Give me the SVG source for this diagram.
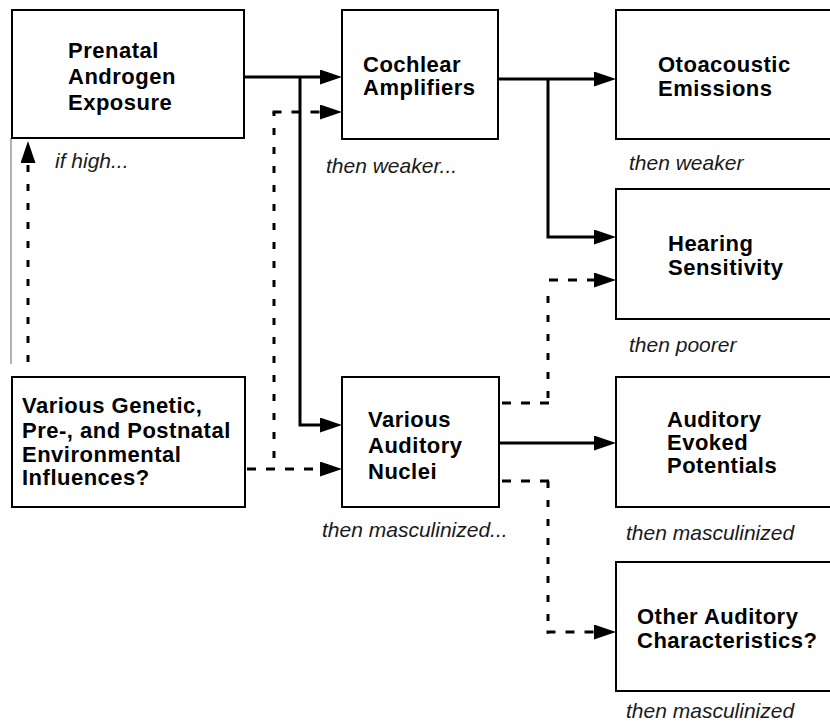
<svg xmlns="http://www.w3.org/2000/svg" width="830" height="725" viewBox="0 0 830 725">
<style>
.box{fill:#fff;stroke:#000;stroke-width:2}
.lbl{font-family:"Liberation Sans",Arial,sans-serif;font-weight:bold;font-size:22px;letter-spacing:0.5px;fill:#000}
.note{font-family:"Liberation Sans",Arial,sans-serif;font-style:italic;font-size:21px;fill:#1a1a1a}
.solid{fill:none;stroke:#000;stroke-width:3}
.dh{fill:none;stroke:#000;stroke-width:3;stroke-dasharray:9 10}
.dv{fill:none;stroke:#000;stroke-width:3;stroke-dasharray:7 12}
.ghost{fill:none;stroke:#999;stroke-width:1.5}
</style>
<defs>
<marker id="ah" markerUnits="userSpaceOnUse" viewBox="0 0 22 15" markerWidth="22" markerHeight="15" refX="12" refY="7.5" orient="auto">
<path d="M0,0 L22,7.5 L0,15 z" fill="#000"/>
</marker>
</defs>
<rect width="830" height="725" fill="#fff"/>

<g id="connectors">
<line class="ghost" x1="11" y1="138" x2="11" y2="364"/>
<!-- solid -->
<path class="solid" d="M244,77 H332" marker-end="url(#ah)"/>
<path class="solid" d="M300,77 V425 H332" marker-end="url(#ah)"/>
<path class="solid" d="M498,79 H606" marker-end="url(#ah)"/>
<path class="solid" d="M548,79 V237 H606" marker-end="url(#ah)"/>
<path class="solid" d="M499,443 H606" marker-end="url(#ah)"/>
<!-- dashed: genetic -> prenatal -->
<line class="dv" x1="28" y1="362" x2="28" y2="151" marker-end="url(#ah)"/>
<!-- genetic -> nuclei -->
<line class="dh" x1="247" y1="469" x2="332" y2="469" marker-end="url(#ah)"/>
<!-- genetic -> cochlear -->
<line class="dv" x1="274" y1="458" x2="274" y2="112"/>
<line class="dh" x1="272.5" y1="112" x2="332" y2="112" stroke-dasharray="6 14 9 10 9 10" marker-end="url(#ah)"/>
<!-- nuclei -> hearing -->
<line class="dh" x1="502" y1="403" x2="549.5" y2="403"/>
<line class="dv" x1="548" y1="398" x2="548" y2="290"/>
<line class="dh" x1="549" y1="280" x2="606" y2="280" marker-end="url(#ah)"/>
<!-- nuclei -> other -->
<line class="dh" x1="502" y1="481" x2="549.5" y2="481"/>
<line class="dv" x1="548" y1="481" x2="548" y2="633.5"/>
<line class="dh" x1="546.5" y1="632" x2="606" y2="632" marker-end="url(#ah)"/>
</g>

<g id="prenatal">
<rect class="box" x="12" y="10" width="232" height="128"/>
<text class="lbl" x="68" y="58">Prenatal</text>
<text class="lbl" x="68" y="84">Androgen</text>
<text class="lbl" x="68" y="110">Exposure</text>
<text class="note" x="55" y="168">if high...</text>
</g>

<g id="cochlear">
<rect class="box" x="342" y="10" width="156" height="129"/>
<text class="lbl" x="363" y="72">Cochlear</text>
<text class="lbl" x="363" y="95">Amplifiers</text>
<text class="note" x="326" y="173">then weaker...</text>
</g>

<g id="otoacoustic">
<rect class="box" x="616" y="10" width="230" height="129"/>
<text class="lbl" x="658" y="72">Otoacoustic</text>
<text class="lbl" x="658" y="96">Emissions</text>
<text class="note" x="629" y="170">then weaker</text>
</g>

<g id="hearing">
<rect class="box" x="616" y="189" width="230" height="130"/>
<text class="lbl" x="668" y="251">Hearing</text>
<text class="lbl" x="668" y="275">Sensitivity</text>
<text class="note" x="629" y="352">then poorer</text>
</g>

<g id="genetic">
<rect class="box" x="12" y="377" width="233" height="130"/>
<text class="lbl" x="22" y="413">Various Genetic,</text>
<text class="lbl" x="22" y="438">Pre-, and Postnatal</text>
<text class="lbl" x="22" y="462">Environmental</text>
<text class="lbl" x="22" y="485">Influences?</text>
</g>

<g id="nuclei">
<rect class="box" x="342" y="377" width="157" height="130"/>
<text class="lbl" x="368" y="427">Various</text>
<text class="lbl" x="368" y="453">Auditory</text>
<text class="lbl" x="368" y="479">Nuclei</text>
<text class="note" x="322" y="537">then masculinized...</text>
</g>

<g id="evoked">
<rect class="box" x="616" y="377" width="230" height="130"/>
<text class="lbl" x="667" y="427">Auditory</text>
<text class="lbl" x="667" y="450">Evoked</text>
<text class="lbl" x="667" y="473">Potentials</text>
<text class="note" x="626" y="540">then masculinized</text>
</g>

<g id="other">
<rect class="box" x="616" y="562" width="230" height="129"/>
<text class="lbl" x="637" y="624">Other Auditory</text>
<text class="lbl" x="637" y="648">Characteristics?</text>
<text class="note" x="626" y="718">then masculinized</text>
</g>
</svg>
